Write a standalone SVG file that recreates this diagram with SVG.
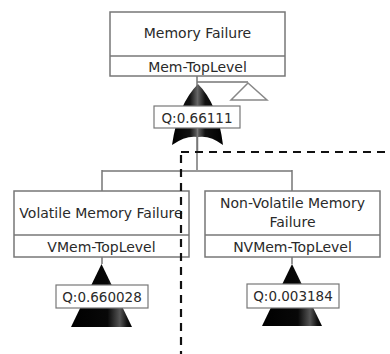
<svg xmlns="http://www.w3.org/2000/svg" width="390" height="354" viewBox="0 0 390 354">
<defs>
<linearGradient id="g" x1="0" y1="0" x2="1" y2="0">
<stop offset="0" stop-color="#000"/>
<stop offset="0.35" stop-color="#111"/>
<stop offset="0.5" stop-color="#666"/>
<stop offset="0.65" stop-color="#111"/>
<stop offset="1" stop-color="#000"/>
</linearGradient>
<linearGradient id="t" x1="0" y1="0" x2="1" y2="0">
<stop offset="0" stop-color="#000"/>
<stop offset="0.6" stop-color="#080808"/>
<stop offset="0.8" stop-color="#555"/>
<stop offset="0.92" stop-color="#111"/>
<stop offset="1" stop-color="#000"/>
</linearGradient>
<style>
.box{fill:#fff;stroke:#777;stroke-width:1.5}
.lbl{fill:#fff;stroke:#777;stroke-width:1.2}
.t{font-family:"DejaVu Sans",sans-serif;font-size:14px;fill:#2a2a2a;text-anchor:middle}
.q{font-family:"DejaVu Sans",sans-serif;font-size:13.5px;fill:#2a2a2a;text-anchor:middle}
.c{stroke:#777;stroke-width:1.5;fill:none}
.gate{fill:url(#g)}
.tri{fill:url(#t)}
</style>
</defs>
<rect width="390" height="354" fill="#fff"/>
<g id="connectors">
<path class="c" d="M197,76 V170 M102,171 H292 M102,170 V191 M292,170 V191 M102,257 V264 M292,257 V264 M197,82 H248"/>
</g>
<g id="mem-top">
<rect class="box" x="110" y="12" width="175" height="64"/>
<line x1="110" y1="56" x2="285" y2="56" stroke="#777" stroke-width="1.5"/>
<text class="t" x="197.5" y="38">Memory Failure</text>
<text class="t" x="197.5" y="71.5">Mem-TopLevel</text>
</g>
<g id="or-gate">
<path class="gate" d="M198,84 Q178,104 172,145 Q186,135 198,137 Q210,135 223,145 Q218,104 198,84 Z"/>
<line x1="197.5" y1="128" x2="197.5" y2="152" stroke="#777" stroke-width="1.5"/>
<polygon points="248,83 231,100 267,100" fill="#fff" stroke="#888" stroke-width="1.5"/>
<rect class="lbl" x="154" y="106" width="86" height="22"/>
<text class="q" x="197" y="122.5">Q:0.66111</text>
</g>
<g id="vmem">
<rect class="box" x="14" y="191" width="175" height="66"/>
<line x1="14" y1="235" x2="189" y2="235" stroke="#777" stroke-width="1.5"/>
<text class="t" x="101" y="218">Volatile Memory Failure</text>
<text class="t" x="101.5" y="251.5">VMem-TopLevel</text>
<polygon class="tri" points="101.5,264 71,327 132,327"/>
<rect class="lbl" x="56" y="285" width="92" height="23"/>
<text class="q" x="102" y="301.5">Q:0.660028</text>
</g>
<g id="nvmem">
<rect class="box" x="205" y="191" width="175" height="66"/>
<line x1="205" y1="235" x2="380" y2="235" stroke="#777" stroke-width="1.5"/>
<text class="t" x="292.5" y="208">Non-Volatile Memory</text>
<text class="t" x="292.5" y="227">Failure</text>
<text class="t" x="292.5" y="251.5">NVMem-TopLevel</text>
<polygon class="tri" points="292,264 262,326 322,326"/>
<rect class="lbl" x="247" y="284" width="92" height="24"/>
<text class="q" x="293" y="301">Q:0.003184</text>
</g>
<g id="boundary">
<path d="M181,152 H390 M181,155 V354" fill="none" stroke="#111" stroke-width="2.2" stroke-dasharray="8,6"/>
</g>
</svg>
